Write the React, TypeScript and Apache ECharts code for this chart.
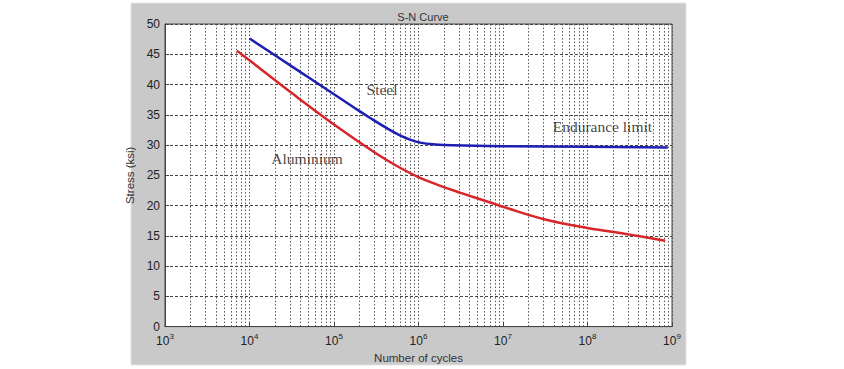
import React, { useEffect, useRef } from "react";
import * as echarts from "echarts";

const steelCycles = [1.0e4, 3.16e4, 1.0e5, 2.0e5, 2.88e5, 3.98e5, 6.03e5, 7.94e5, 1.05e6, 1.58e6, 2.51e6, 1e7, 1e8, 8.9e8];
const steelStress = [47.6, 43.0, 38.4, 35.6, 34.2, 33.0, 31.6, 30.9, 30.4, 30.1, 29.95, 29.8, 29.7, 29.6];
const aluCycles = [7.08e3, 1e4, 3.16e4, 1e5, 3.16e5, 5.62e5, 1e6, 1.78e6, 3.16e6, 7.08e6, 1e7, 3.16e7, 1e8, 3.16e8, 8.3e8];
const aluStress = [45.6, 44.0, 38.6, 33.4, 28.6, 26.5, 24.7, 23.3, 22.1, 20.5, 19.8, 17.7, 16.3, 15.2, 14.2];
const minorMultipliers = [2, 3, 4, 5, 6, 7, 8, 9];
const decadeExponents = [3, 4, 5, 6, 7, 8];
const annotationNames = ["Steel", "Aluminium", "Endurance limit"];
const annotationCycles = [3.7e5, 4.8e4, 1.5e8];
const annotationStress = [39.2, 27.7, 33.0];

export default function App() {
  const ref = useRef<HTMLDivElement>(null);
  useEffect(() => {
    document.body.style.margin = "0";
    const chart = echarts.init(ref.current!, undefined, { renderer: "svg" });
    const minorLines: any[] = [];
    decadeExponents.forEach((d) =>
      minorMultipliers.forEach((k) => minorLines.push({ xAxis: k * Math.pow(10, d) }))
    );
    const sans = "Liberation Sans, Arial, sans-serif";
    chart.setOption({
      animation: false,
      backgroundColor: "#ffffff",
      title: {
        text: "S-N Curve",
        left: 418,
        textAlign: "center",
        top: 6,
        textStyle: { fontFamily: sans, fontSize: 11, fontWeight: "normal", color: "#333" },
      },
      graphic: [
        {
          type: "rect",
          z: -10,
          shape: { x: 131, y: 3, width: 555, height: 362 },
          style: { fill: "#c9c9c9", stroke: "#e4e4e4", lineWidth: 1 },
          silent: true,
        },
      ],
      grid: {
        left: 165,
        right: 172,
        top: 24,
        bottom: 41,
        show: true,
        backgroundColor: "#ffffff",
        borderColor: "#444",
        borderWidth: 1,
        containLabel: false,
      },
      xAxis: {
        type: "log",
        logBase: 10,
        min: 1e3,
        max: 1e9,
        name: "Number of cycles",
        nameLocation: "middle",
        nameGap: 23,
        nameTextStyle: { fontFamily: sans, fontSize: 11.5, color: "#333" },
        axisLine: { show: true, lineStyle: { color: "#444", width: 1 } },
        axisTick: { show: true, inside: true, length: 4, lineStyle: { color: "#444" } },
        splitLine: { show: true, lineStyle: { color: "#555", type: [1.5, 2], width: 1 } },
        axisLabel: {
          margin: 6,
          formatter: (v: number) => `{b|10}{s|${Math.round(Math.log10(v))}}`,
          rich: {
            b: { fontFamily: sans, fontSize: 12, color: "#222" },
            s: { fontFamily: sans, fontSize: 8, color: "#222", padding: [0, 0, 9, 0] },
          },
        },
      },
      yAxis: {
        type: "value",
        min: 0,
        max: 50,
        interval: 5,
        name: "Stress (ksi)",
        nameLocation: "middle",
        nameGap: 21,
        nameTextStyle: { fontFamily: sans, fontSize: 11.5, color: "#333" },
        axisLine: { show: true, lineStyle: { color: "#444", width: 1 } },
        axisTick: { show: true, inside: true, length: 4, lineStyle: { color: "#444" } },
        splitLine: { show: true, lineStyle: { color: "#444", type: [3, 2], width: 1 } },
        axisLabel: { margin: 5, fontFamily: sans, fontSize: 12, color: "#222" },
      },
      series: [
        {
          type: "line",
          name: "grid-minor",
          data: [],
          silent: true,
          markLine: {
            silent: true,
            symbol: ["none", "none"],
            label: { show: false },
            emphasis: { disabled: true },
            lineStyle: { color: "#555", type: [1.5, 2], width: 1 },
            data: minorLines,
          },
        },
        {
          type: "line",
          name: "Steel",
          data: steelCycles.map((c, i) => [c, steelStress[i]]),
          smooth: 0.4,
          showSymbol: false,
          lineStyle: { color: "#1e1eb4", width: 2.5 },
          z: 5,
        },
        {
          type: "line",
          name: "Aluminium",
          data: aluCycles.map((c, i) => [c, aluStress[i]]),
          smooth: 0.4,
          showSymbol: false,
          lineStyle: { color: "#d6262a", width: 2.5 },
          z: 5,
        },
        {
          type: "scatter",
          name: "labels",
          symbolSize: 0,
          silent: true,
          data: annotationNames.map((n, i) => ({ name: n, value: [annotationCycles[i], annotationStress[i]] })),
          label: {
            show: true,
            position: "inside",
            formatter: "{b}",
            fontFamily: "Liberation Serif, Times New Roman, serif",
            fontSize: 15.5,
            color: "#111",
          },
          z: 6,
        },
      ],
    });
    return () => chart.dispose();
  }, []);
  return <div ref={ref} style={{ width: 844, height: 369 }} />;
}
